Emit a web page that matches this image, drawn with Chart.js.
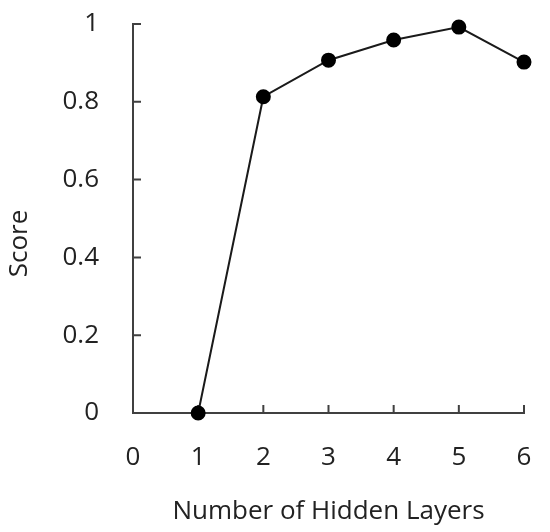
<!DOCTYPE html>
<html>
<head>
<meta charset="utf-8">
<script src="https://cdn.jsdelivr.net/npm/chart.js@4"></script>
<style>
  body { margin: 0; background: #fff; }
  #wrap { width: 550px; height: 532px; }
</style>
</head>
<body>
<div id="wrap"><canvas id="chart"></canvas></div>
<script>
// data
var hiddenLayers = [1, 2, 3, 4, 5, 6];
var scores = [0, 0.813, 0.907, 0.959, 0.992, 0.902];
var xTitle = 'Number of Hidden Layers';
var yTitle = 'Score';

var axisColor = '#404040';
var textColor = '#222';
var font = { family: 'Open Sans', size: 26 };

// small tick marks pointing into the plot, like the original
var innerTicks = {
  id: 'innerTicks',
  beforeDatasetsDraw: function(chart) {
    var ctx = chart.ctx, x = chart.scales.x, y = chart.scales.y;
    ctx.save();
    ctx.strokeStyle = axisColor;
    ctx.lineWidth = 2;
    ctx.beginPath();
    x.ticks.forEach(function(t) {
      var px = x.getPixelForValue(t.value);
      ctx.moveTo(px, x.top);
      ctx.lineTo(px, x.top - 8);
    });
    y.ticks.forEach(function(t) {
      var py = y.getPixelForValue(t.value);
      ctx.moveTo(y.right, py);
      ctx.lineTo(y.right + 8, py);
    });
    ctx.stroke();
    ctx.restore();
  }
};

// y title sits a bit below the middle of the axis in the original
var yAxisTitle = {
  id: 'yAxisTitle',
  afterDraw: function(chart) {
    var ctx = chart.ctx, area = chart.chartArea;
    ctx.save();
    ctx.translate(20, (area.top + area.bottom) / 2 + 25);
    ctx.rotate(-Math.PI / 2);
    ctx.font = font.size + 'px "' + font.family + '"';
    ctx.fillStyle = textColor;
    ctx.textAlign = 'center';
    ctx.textBaseline = 'middle';
    ctx.fillText(yTitle, 0, 0);
    ctx.restore();
  }
};

var ctx_score = document.getElementById('chart').getContext('2d');
var scoreGraph = new Chart(ctx_score, {
  type: 'scatter',
  data: {
    datasets: [{
      label: yTitle,
      data: hiddenLayers.map(function(v, i) { return { x: v, y: scores[i] }; }),
      showLine: true,
      borderColor: '#1a1a1a',
      borderWidth: 2,
      backgroundColor: '#000',
      pointBackgroundColor: '#000',
      pointBorderColor: '#000',
      pointRadius: 6.5,
      clip: false
    }]
  },
  options: {
    responsive: true,
    maintainAspectRatio: false,
    animation: false,
    layout: { padding: { left: 0, right: 26, top: 24, bottom: 0 } },
    plugins: { legend: { display: false }, tooltip: { enabled: false } },
    scales: {
      x: {
        type: 'linear',
        min: 0, max: 6,
        grid: { display: false },
        border: { display: true, color: axisColor, width: 2 },
        ticks: { stepSize: 1, color: textColor, font: font, padding: 21 },
        title: { display: true, text: xTitle, color: textColor, font: font, padding: { top: 0, bottom: 5 } },
        afterFit: function(s) { s.height = 119; s.paddingLeft = 0; s.paddingRight = 0; }
      },
      y: {
        min: 0, max: 1,
        grid: { display: false },
        border: { display: true, color: axisColor, width: 2 },
        ticks: {
          stepSize: 0.2, color: textColor, font: font, padding: 26,
          callback: function(v) { return String(Math.round(v * 10) / 10); }
        },
        title: { display: false },
        afterFit: function(s) { s.width = 133; s.paddingTop = 0; s.paddingBottom = 0; }
      }
    }
  },
  plugins: [innerTicks, yAxisTitle]
});
</script>
</body>
</html>
